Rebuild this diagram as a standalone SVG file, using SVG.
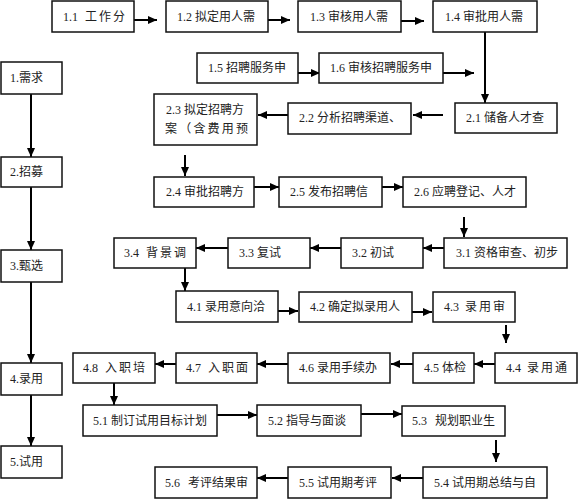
<svg xmlns="http://www.w3.org/2000/svg" width="579" height="500" viewBox="0 0 579 500">
<defs>
<marker id="ah" markerUnits="userSpaceOnUse" markerWidth="9" markerHeight="8" refX="9" refY="4" orient="auto">
<path d="M0,0 L9,4 L0,8 z" fill="#000"/>
</marker>
<style>
rect{fill:#fff;stroke:#111;stroke-width:1.5}
text{font-family:"Liberation Serif","Noto Sans CJK SC",serif;font-size:12px;fill:#222}
.sp{letter-spacing:2px}
.c line{stroke:#000;stroke-width:2}
.c .a{marker-end:url(#ah)}
</style>
</defs>
<rect x="0" y="0" width="579" height="500" style="fill:#fff;stroke:none"/>
<g class="c">
<line class="a" x1="134" y1="20" x2="157" y2="20"/>
<line class="a" x1="268" y1="20" x2="290" y2="20"/>
<line class="a" x1="401" y1="21" x2="424" y2="21"/>
<line class="a" x1="485" y1="32" x2="485" y2="103"/>
<line class="a" x1="298" y1="73" x2="320" y2="73"/>
<line class="a" x1="443" y1="73" x2="474" y2="73"/>
<line class="a" x1="443" y1="115" x2="413" y2="115"/>
<line class="a" x1="288" y1="115" x2="258" y2="115"/>
<line class="a" x1="185" y1="155" x2="185" y2="176"/>
<line class="a" x1="254" y1="187" x2="279" y2="187"/>
<line class="a" x1="382" y1="187" x2="403" y2="187"/>
<line class="a" x1="464" y1="217" x2="464" y2="237"/>
<line class="a" x1="444" y1="248" x2="423" y2="248"/>
<line class="a" x1="341" y1="248" x2="310" y2="248"/>
<line class="a" x1="228" y1="248" x2="196" y2="248"/>
<line class="a" x1="185" y1="268" x2="185" y2="291"/>
<line class="a" x1="278" y1="311" x2="298" y2="311"/>
<line class="a" x1="412" y1="312" x2="432" y2="312"/>
<line class="a" x1="506" y1="325" x2="506" y2="343"/>
<line class="a" x1="495" y1="364" x2="474" y2="364"/>
<line class="a" x1="413" y1="364" x2="391" y2="364"/>
<line class="a" x1="288" y1="364" x2="257" y2="364"/>
<line class="a" x1="176" y1="364" x2="155" y2="364"/>
<line class="a" x1="114" y1="383" x2="114" y2="405"/>
<line class="a" x1="217" y1="415" x2="257" y2="415"/>
<line class="a" x1="361" y1="414" x2="402" y2="414"/>
<line class="a" x1="496" y1="440" x2="496" y2="462"/>
<line class="a" x1="423" y1="478" x2="392" y2="478"/>
<line class="a" x1="288" y1="478" x2="257" y2="478"/>
<line class="a" x1="31" y1="94" x2="31" y2="157"/>
<line class="a" x1="31" y1="187" x2="31" y2="250"/>
<line class="a" x1="31" y1="282" x2="31" y2="363"/>
<line class="a" x1="31" y1="395" x2="31" y2="446"/>
</g>
<g id="n11"><rect x="52" y="1" width="82" height="31"/><text x="63" y="21">1.1<tspan class="sp" x="85">工作分</tspan></text></g>
<g id="n12"><rect x="166" y="1" width="102" height="31"/><text x="177" y="21">1.2 拟定用人需</text></g>
<g id="n13"><rect x="298" y="1" width="103" height="31"/><text x="310" y="21">1.3 审核用人需</text></g>
<g id="n14"><rect x="433" y="1" width="104" height="31"/><text x="445" y="21">1.4 审批用人需</text></g>
<g id="n15"><rect x="197" y="53" width="101" height="30"/><text x="208" y="72">1.5 招聘服务申</text></g>
<g id="n16"><rect x="319" y="53" width="124" height="30"/><text x="330" y="72">1.6 审核招聘服务申</text></g>
<g id="n21"><rect x="455" y="103" width="102" height="30"/><text x="466" y="122">2.1 储备人才查</text></g>
<g id="n22"><rect x="288" y="103" width="123" height="31"/><text x="299" y="122">2.2 分析招聘渠道、</text></g>
<g id="n23"><rect x="154" y="94" width="103" height="51"/><text x="166" y="114">2.3 拟定招聘方</text><text x="165" y="133" textLength="83">案（含费用预</text></g>
<g id="n24"><rect x="154" y="177" width="100" height="30"/><text x="166" y="196">2.4 审批招聘方</text></g>
<g id="n25"><rect x="279" y="177" width="103" height="30"/><text x="290" y="196">2.5 发布招聘信</text></g>
<g id="n26"><rect x="403" y="177" width="123" height="30"/><text x="414" y="196">2.6 应聘登记、人才</text></g>
<g id="n31"><rect x="444" y="238" width="123" height="30"/><text x="456" y="257">3.1 资格审查、初步</text></g>
<g id="n32"><rect x="341" y="238" width="82" height="30"/><text x="352" y="257">3.2 初试</text></g>
<g id="n33"><rect x="228" y="238" width="82" height="30"/><text x="239" y="257">3.3 复试</text></g>
<g id="n34"><rect x="114" y="238" width="82" height="30"/><text x="124" y="257">3.4<tspan class="sp" x="146">背景调</tspan></text></g>
<g id="n41"><rect x="176" y="291" width="102" height="31"/><text x="187" y="311">4.1 录用意向洽</text></g>
<g id="n42"><rect x="299" y="292" width="113" height="30"/><text x="310" y="311">4.2 确定拟录用人</text></g>
<g id="n43"><rect x="433" y="292" width="82" height="30"/><text x="444" y="311">4.3<tspan class="sp" x="465">录用审</tspan></text></g>
<g id="n44"><rect x="495" y="353" width="82" height="30"/><text x="506" y="372">4.4<tspan class="sp" x="527">录用通</tspan></text></g>
<g id="n45"><rect x="413" y="353" width="61" height="30"/><text x="424" y="372">4.5 体检</text></g>
<g id="n46"><rect x="288" y="353" width="102" height="30"/><text x="299" y="372">4.6 录用手续办</text></g>
<g id="n47"><rect x="176" y="353" width="81" height="30"/><text x="186" y="372">4.7<tspan class="sp" x="208">入职面</tspan></text></g>
<g id="n48"><rect x="73" y="353" width="82" height="30"/><text x="83" y="372">4.8<tspan class="sp" x="105">入职培</tspan></text></g>
<g id="n51"><rect x="83" y="405" width="134" height="31"/><text x="93" y="425">5.1 制订试用目标计划</text></g>
<g id="n52"><rect x="257" y="405" width="104" height="31"/><text x="268" y="425">5.2 指导与面谈</text></g>
<g id="n53"><rect x="402" y="406" width="103" height="30"/><text x="412" y="425">5.3<tspan x="435">规划职业生</tspan></text></g>
<g id="n54"><rect x="423" y="467" width="124" height="31"/><text x="434" y="487">5.4 试用期总结与自</text></g>
<g id="n55"><rect x="288" y="467" width="103" height="31"/><text x="299" y="487">5.5 试用期考评</text></g>
<g id="n56"><rect x="155" y="467" width="102" height="31"/><text x="165" y="487">5.6<tspan x="188">考评结果审</tspan></text></g>
<g id="s1"><rect x="1" y="62" width="61" height="32"/><text x="10" y="82">1.需求</text></g>
<g id="s2"><rect x="1" y="157" width="61" height="30"/><text x="10" y="176">2.招募</text></g>
<g id="s3"><rect x="1" y="250" width="61" height="32"/><text x="10" y="270">3.甄选</text></g>
<g id="s4"><rect x="1" y="363" width="61" height="32"/><text x="10" y="383">4.录用</text></g>
<g id="s5"><rect x="1" y="446" width="61" height="32"/><text x="10" y="466">5.试用</text></g>
</svg>
